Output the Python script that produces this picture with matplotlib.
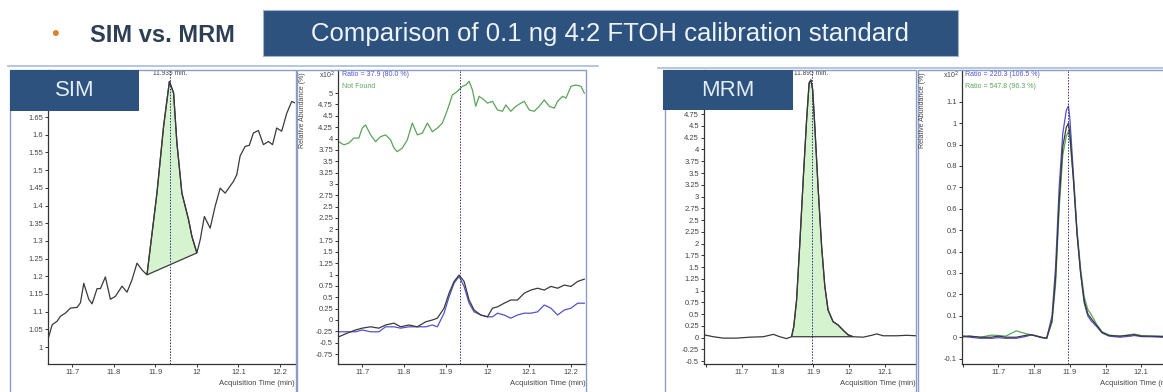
import matplotlib
matplotlib.use("Agg")
import matplotlib.pyplot as plt
from matplotlib.patches import Rectangle
from matplotlib.ticker import FixedLocator, FuncFormatter

plt.rcParams['font.family'] = ['Liberation Sans', 'DejaVu Sans']

# ---- data ----
# SIM quantifier trace
sim_t = [11.644, 11.652, 11.664, 11.672, 11.684, 11.696, 11.712, 11.720, 11.728, 11.740,
         11.748, 11.760, 11.768, 11.780, 11.792, 11.804, 11.820, 11.832, 11.844, 11.856,
         11.868, 11.880, 11.904, 11.920, 11.934, 11.944, 11.952, 11.964, 11.980, 11.988,
         12.000, 12.008, 12.018, 12.032, 12.044, 12.056, 12.068, 12.080, 12.088, 12.096,
         12.104, 12.116, 12.126, 12.136, 12.148, 12.160, 12.172, 12.182, 12.192, 12.204,
         12.216, 12.228, 12.236]
sim_v = [1.030, 1.063, 1.073, 1.087, 1.096, 1.110, 1.112, 1.125, 1.180, 1.135,
         1.122, 1.165, 1.165, 1.198, 1.135, 1.143, 1.172, 1.155, 1.190, 1.237,
         1.218, 1.204, 1.435, 1.624, 1.751, 1.718, 1.577, 1.435, 1.360, 1.313,
         1.266, 1.303, 1.369, 1.336, 1.398, 1.449, 1.435, 1.455, 1.468, 1.487,
         1.540, 1.567, 1.570, 1.605, 1.612, 1.572, 1.581, 1.572, 1.619, 1.610,
         1.660, 1.694, 1.690]
sim_peak = 11.935
sim_int = (21, 30)  # integration start / end index

# SIM qualifiers
simq_green_t = [11.644, 11.656, 11.668, 11.680, 11.692, 11.700, 11.708, 11.720, 11.732, 11.744,
                11.756, 11.768, 11.776, 11.784, 11.796, 11.808, 11.820, 11.832, 11.844, 11.856,
                11.868, 11.880, 11.892, 11.904, 11.916, 11.928, 11.940, 11.948, 11.956, 11.964,
                11.972, 11.980, 11.992, 12.000, 12.012, 12.024, 12.036, 12.044, 12.056, 12.068,
                12.080, 12.088, 12.100, 12.112, 12.124, 12.136, 12.148, 12.160, 12.168, 12.180,
                12.188, 12.200, 12.212, 12.224, 12.232]
simq_green = [3.93, 3.86, 3.90, 4.01, 4.01, 4.23, 4.30, 4.08, 3.93, 4.04,
              4.08, 3.97, 3.79, 3.71, 3.79, 3.97, 4.34, 4.08, 4.12, 4.34,
              4.15, 4.23, 4.34, 4.63, 4.96, 5.04, 5.15, 5.18, 5.26, 5.07,
              4.71, 4.93, 4.85, 4.78, 4.82, 4.63, 4.60, 4.74, 4.60, 4.71,
              4.78, 4.82, 4.63, 4.60, 4.71, 4.85, 4.71, 4.67, 4.82, 4.93,
              4.89, 5.15, 5.18, 5.15, 5.00]
simq_t = [11.644, 11.664, 11.684, 11.700, 11.720, 11.740, 11.756, 11.776, 11.792, 11.812,
          11.832, 11.852, 11.868, 11.880, 11.896, 11.908, 11.920, 11.932, 11.944, 11.956,
          11.968, 11.984, 12.000, 12.012, 12.024, 12.040, 12.056, 12.072, 12.088, 12.104,
          12.120, 12.136, 12.152, 12.168, 12.184, 12.200, 12.216, 12.232]
simq_black = [-0.37, -0.29, -0.22, -0.18, -0.15, -0.18, -0.11, -0.07, -0.15, -0.11,
              -0.15, -0.04, 0.00, 0.04, 0.26, 0.59, 0.85, 0.99, 0.85, 0.44,
              0.22, 0.11, 0.07, 0.26, 0.29, 0.37, 0.44, 0.44, 0.59, 0.66,
              0.70, 0.66, 0.74, 0.70, 0.77, 0.74, 0.85, 0.90]
simq_blue = [-0.26, -0.26, -0.26, -0.22, -0.26, -0.26, -0.15, -0.15, -0.18, -0.15,
             -0.15, -0.15, -0.11, -0.15, 0.15, 0.51, 0.81, 0.96, 0.74, 0.37,
             0.18, 0.11, 0.07, 0.07, 0.15, 0.11, 0.04, 0.11, 0.15, 0.15,
             0.18, 0.33, 0.26, 0.11, 0.22, 0.26, 0.37, 0.37]

# MRM quantifier
mrm_t = [11.594, 11.620, 11.648, 11.685, 11.722, 11.760, 11.788, 11.806, 11.825, 11.839,
         11.845, 11.853, 11.862, 11.872, 11.881, 11.888, 11.893, 11.898, 11.904, 11.913,
         11.923, 11.932, 11.941, 11.955, 11.969, 11.983, 11.997, 12.011, 12.039, 12.063,
         12.077, 12.095, 12.133, 12.161, 12.187]
mrm_v = [0.06, 0.02, -0.01, -0.01, 0.01, 0.02, 0.07, 0.02, -0.02, 0.02,
         0.23, 0.80, 2.00, 3.43, 4.63, 5.41, 5.48, 5.27, 4.49, 3.21,
         1.94, 1.09, 0.59, 0.34, 0.27, 0.16, 0.06, 0.02, 0.01, 0.05,
         0.08, 0.04, 0.04, 0.05, 0.04]
mrm_peak = 11.895
mrm_int = (9, 27)

# MRM qualifiers
mrmq_t = [11.598, 11.620, 11.650, 11.680, 11.700, 11.720, 11.750, 11.780, 11.790, 11.800,
          11.820, 11.835, 11.850, 11.860, 11.870, 11.880, 11.890, 11.896, 11.900, 11.910,
          11.920, 11.930, 11.940, 11.950, 11.960, 11.975, 11.990, 12.010, 12.040, 12.070,
          12.080, 12.100, 12.130, 12.160, 12.200]
mrmq_black = [0.005, 0.005, 0.0, 0.0, 0.005, 0.0, 0.0, 0.01, 0.012, 0.008,
              0.0, -0.005, 0.08, 0.28, 0.64, 0.89, 0.98, 1.0, 0.95, 0.73,
              0.48, 0.30, 0.17, 0.11, 0.086, 0.055, 0.023, 0.008, 0.005, 0.01,
              0.012, 0.005, 0.005, 0.003, 0.005]
mrmq_blue = [0.005, 0.0, -0.005, -0.005, -0.002, -0.005, -0.005, 0.005, 0.01, 0.008,
             -0.002, -0.005, 0.10, 0.33, 0.70, 0.95, 1.06, 1.08, 1.02, 0.76,
             0.49, 0.30, 0.16, 0.10, 0.075, 0.05, 0.02, 0.005, 0.0, 0.005,
             0.008, 0.003, 0.002, 0.0, 0.002]
mrmq_green = [0.0, 0.005, 0.0, 0.01, 0.008, 0.005, 0.03, 0.015, 0.012, 0.01,
              0.0, -0.005, 0.07, 0.25, 0.60, 0.85, 0.94, 0.96, 0.93, 0.74,
              0.50, 0.32, 0.19, 0.13, 0.105, 0.06, 0.025, 0.01, 0.005, 0.012,
              0.015, 0.008, 0.005, 0.005, 0.005]

x_ticks_sim = [11.7, 11.8, 11.9, 12.0, 12.1, 12.2]
x_ticks_mrm = [11.6, 11.7, 11.8, 11.9, 12.0, 12.1, 12.2]
y_ticks_sim = [1.0, 1.05, 1.1, 1.15, 1.2, 1.25, 1.3, 1.35, 1.4, 1.45, 1.5, 1.55, 1.6, 1.65, 1.7, 1.75]
y_ticks_simq = [-0.75, -0.5, -0.25, 0, 0.25, 0.5, 0.75, 1, 1.25, 1.5, 1.75, 2, 2.25, 2.5,
                2.75, 3, 3.25, 3.5, 3.75, 4, 4.25, 4.5, 4.75, 5]
y_ticks_mrm = [-0.5, -0.25, 0, 0.25, 0.5, 0.75, 1, 1.25, 1.5, 1.75, 2, 2.25, 2.5, 2.75,
               3, 3.25, 3.5, 3.75, 4, 4.25, 4.5, 4.75, 5, 5.25, 5.5]
y_ticks_mrmq = [-0.1, 0, 0.1, 0.2, 0.3, 0.4, 0.5, 0.6, 0.7, 0.8, 0.9, 1.0, 1.1]

# ---- layout (pixels of the 1163x392 picture) ----
W, H = 1163, 392
NAVY = '#2c527d'
FRAME = '#8c9cc4'
BLK, BLUE, GREEN = '#3a3a3a', '#5252cc', '#5aa55a'
FILL = '#d6f3cf'

fig = plt.figure(figsize=(W / 100, H / 100), dpi=100)
fig.patch.set_facecolor('white')


def fx(x):
    return x / W


def fy(y):
    return 1 - y / H


def px_rect(x0, y0, x1, y1, **kw):
    r = Rectangle((fx(x0), fy(y1)), (x1 - x0) / W, (y1 - y0) / H,
                  transform=fig.transFigure, **kw)
    fig.add_artist(r)
    return r


def make_ax(l, r, t, b, xlim, ylim, xticks, xlabels, yticks):
    ax = fig.add_axes([fx(l), fy(b), (r - l) / W, (b - t) / H])
    ax.set_xlim(*xlim)
    ax.set_ylim(*ylim)
    for s in ['top', 'right']:
        ax.spines[s].set_visible(False)
    for s in ['left', 'bottom']:
        ax.spines[s].set_color('#333333')
        ax.spines[s].set_linewidth(0.9)
    ax.xaxis.set_major_locator(FixedLocator(xticks))
    ax.set_xticklabels(xlabels)
    ax.yaxis.set_major_locator(FixedLocator(yticks))
    ax.yaxis.set_major_formatter(FuncFormatter(lambda v, p: '{:g}'.format(round(v, 3))))
    ax.tick_params(direction='out', length=2.5, width=0.7, labelsize=5.5,
                   labelcolor='#444444', color='#333333', pad=1)
    ax.text(1.0, -0.055, 'Acquisition Time (min)', transform=ax.transAxes,
            ha='right', va='top', fontsize=5.5, color='#444444')
    return ax


# group frames (top lines)
fig.add_artist(plt.Line2D([fx(8), fx(598)], [fy(66), fy(66)], color='#a8bcd8', lw=1.2,
                          transform=fig.transFigure))
fig.add_artist(plt.Line2D([fx(658), fx(1163)], [fy(68), fy(68)], color='#a8bcd8', lw=1.2,
                          transform=fig.transFigure))

# panel frames
px_rect(10, 70, 296, 400, fill=False, ec=FRAME, lw=1.0)
px_rect(297, 70, 586, 400, fill=False, ec=FRAME, lw=1.0)
px_rect(665, 70, 916, 400, fill=False, ec=FRAME, lw=1.0)
px_rect(918, 70, 1190, 400, fill=False, ec=FRAME, lw=1.0)

sim_lab = ['11.7', '11.8', '11.9', '12', '12.1', '12.2']
mrm_lab = ['', '11.7', '11.8', '11.9', '12', '12.1', '12.2']

# panel 1: SIM quantifier
ax1 = make_ax(48, 295, 70, 364, (11.642, 12.236), (0.952, 1.783), x_ticks_sim, sim_lab, y_ticks_sim)
ax1.plot(sim_t, sim_v, color=BLK, lw=0.9)
i0, i1 = sim_int
ax1.fill(sim_t[i0:i1 + 1], sim_v[i0:i1 + 1], facecolor=FILL, edgecolor=BLK, lw=0.9)
ax1.axvline(sim_peak, color='#30307a', lw=0.7, ls=(0, (1.5, 1.5)))
ax1.text(sim_peak, 1.0, '11.935 min.', transform=ax1.get_xaxis_transform(),
         ha='center', va='top', fontsize=4.8, color='#444444')

# panel 2: SIM qualifiers
ax2 = make_ax(338, 586, 70, 364, (11.642, 12.236), (-0.97, 5.51), x_ticks_sim, sim_lab, y_ticks_simq)
ax2.plot(simq_green_t, simq_green, color=GREEN, lw=0.9)
ax2.plot(simq_t, simq_blue, color=BLUE, lw=0.9)
ax2.plot(simq_t, simq_black, color=BLK, lw=0.9)
ax2.axvline(sim_peak, color='#30307a', lw=0.7, ls=(0, (1.5, 1.5)))
ax2.text(0.015, 0.995, 'Ratio = 37.9 (80.0 %)', transform=ax2.transAxes, ha='left', va='top',
         fontsize=5, color=BLUE)
ax2.text(0.015, 0.955, 'Not Found', transform=ax2.transAxes, ha='left', va='top',
         fontsize=5, color=GREEN)

# panel 3: MRM quantifier
ax3 = make_ax(704, 916, 70, 364, (11.594, 12.187), (-0.56, 5.69), x_ticks_mrm, mrm_lab, y_ticks_mrm)
ax3.plot(mrm_t, mrm_v, color=BLK, lw=0.9)
i0, i1 = mrm_int
ax3.fill(mrm_t[i0:i1 + 1], mrm_v[i0:i1 + 1], facecolor=FILL, edgecolor=BLK, lw=0.9)
ax3.axvline(mrm_peak, color='#30307a', lw=0.7, ls=(0, (1.5, 1.5)))
ax3.text(mrm_peak, 1.0, '11.895 min.', transform=ax3.get_xaxis_transform(),
         ha='center', va='top', fontsize=4.8, color='#444444')

# panel 4: MRM qualifiers
ax4 = make_ax(962, 1176, 70, 364, (11.598, 12.197), (-0.125, 1.248), x_ticks_mrm, mrm_lab, y_ticks_mrmq)
ax4.plot(mrmq_t, mrmq_green, color=GREEN, lw=0.9)
ax4.plot(mrmq_t, mrmq_blue, color=BLUE, lw=0.9)
ax4.plot(mrmq_t, mrmq_black, color=BLK, lw=0.9)
ax4.axvline(mrm_peak, color='#30307a', lw=0.7, ls=(0, (1.5, 1.5)))
ax4.text(0.015, 0.995, 'Ratio = 220.3 (106.5 %)', transform=ax4.transAxes, ha='left', va='top',
         fontsize=5, color=BLUE)
ax4.text(0.015, 0.955, 'Ratio = 547.8 (96.3 %)', transform=ax4.transAxes, ha='left', va='top',
         fontsize=5, color=GREEN)

# y labels and x10^2 on the qualifier panels
for xl, xs in [(303, 338), (923, 962)]:
    fig.text(fx(xl), fy(72), 'Relative Abundance (%)', rotation=90, ha='center', va='top',
             fontsize=5, color='#444444')
    fig.text(fx(xs - 3), fy(70), r'x10$^{2}$', ha='right', va='top', fontsize=5, color='#444444')

# label boxes
px_rect(10, 70, 139, 111, facecolor=NAVY, edgecolor='none', zorder=5)
fig.text(fx(75), fy(91), 'SIM', ha='center', va='center', fontsize=16, color='#e4ecf5', zorder=6)
px_rect(663, 70, 793, 110, facecolor=NAVY, edgecolor='none', zorder=5)
fig.text(fx(728), fy(90), 'MRM', ha='center', va='center', fontsize=16, color='#e4ecf5', zorder=6)

# header
fig.text(fx(55), fy(35), '\u2022', ha='center', va='center', fontsize=16, color='#d9822b')
fig.text(fx(90), fy(35), 'SIM vs. MRM', ha='left', va='center', fontsize=17,
         fontweight='bold', color='#2e3f55')
px_rect(263, 10, 958, 56, facecolor=NAVY, edgecolor='#9fb3cc', lw=0.8, zorder=5)
fig.text(fx(610), fy(34), 'Comparison of 0.1 ng 4:2 FTOH calibration standard', ha='center',
         va='center', fontsize=18.5, color='#eef3f9', zorder=6)

fig.savefig('out.png', dpi=100)
